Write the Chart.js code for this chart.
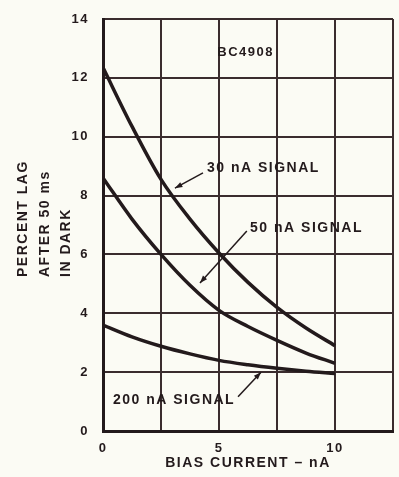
<!DOCTYPE html>
<html lang="en">
<head>
  <meta charset="UTF-8">
  <title>Percent lag vs bias current</title>
  <style>
    html, body {
      margin: 0;
      padding: 0;
      background: #fbfbf4;
    }
    #lagChart {
      display: block;
    }
  </style>
  <script src="https://cdn.jsdelivr.net/npm/chart.js"></script>
</head>
<body>
  <canvas id="lagChart" width="399" height="477"></canvas>

  <script>
    // values
    const biasCurrent = [0, 1.25, 2.5, 3.75, 5, 6.25, 7.5, 8.75, 10];
    const lag30nA = [12.35, 10.35, 8.55, 7.2, 6.05, 5.05, 4.2, 3.5, 2.9];
    const lag50nA = [8.6, 7.2, 6.0, 4.95, 4.1, 3.55, 3.08, 2.65, 2.3];
    const lag200nA = [3.6, 3.2, 2.88, 2.62, 2.4, 2.25, 2.13, 2.03, 1.95];
    const xLabelValues = [0, 5, 10];
    const yTitleLines = ['PERCENT LAG', 'AFTER 50 ms', 'IN DARK'];

    const ink = '#231a1c';
    const gridInk = '#3a2c2e';

    function toPoints(values) {
      return values.map((v, i) => ({ x: biasCurrent[i], y: v }));
    }

    function arrow(ctx, x1, y1, x2, y2) {
      ctx.beginPath();
      ctx.moveTo(x1, y1);
      ctx.lineTo(x2, y2);
      ctx.stroke();
      const a = Math.atan2(y2 - y1, x2 - x1);
      ctx.beginPath();
      ctx.moveTo(x2, y2);
      ctx.lineTo(x2 - 8 * Math.cos(a - 0.35), y2 - 8 * Math.sin(a - 0.35));
      ctx.lineTo(x2 - 8 * Math.cos(a + 0.35), y2 - 8 * Math.sin(a + 0.35));
      ctx.closePath();
      ctx.fill();
    }

    const labelsPlugin = {
      id: 'labels',
      beforeDraw(chart) {
        chart.ctx.letterSpacing = '1.5px';
      },
      afterDraw(chart) {
        const ctx = chart.ctx;
        const xs = chart.scales.x;
        const ys = chart.scales.y;
        const px = v => xs.getPixelForValue(v);
        const py = v => ys.getPixelForValue(v);

        ctx.save();
        ctx.fillStyle = ink;
        ctx.strokeStyle = ink;
        ctx.letterSpacing = '1.5px';
        ctx.textBaseline = 'middle';

        // y axis title, three rotated lines
        ctx.font = 'bold 14px "Liberation Sans", Arial, sans-serif';
        const titleX = [23, 45, 66];
        yTitleLines.forEach((line, i) => {
          ctx.save();
          ctx.translate(titleX[i], 277);
          ctx.rotate(-Math.PI / 2);
          ctx.textAlign = 'left';
          ctx.fillText(line, 0, 0);
          ctx.restore();
        });

        // part number
        ctx.font = 'bold 13px "Liberation Sans", Arial, sans-serif';
        ctx.textAlign = 'center';
        ctx.fillText('BC4908', px(6.15), py(12.85));

        // curve labels
        ctx.font = 'bold 14px "Liberation Sans", Arial, sans-serif';
        ctx.textAlign = 'left';
        ctx.fillText('30 nA SIGNAL', px(4.48), py(8.94));
        ctx.fillText('50 nA SIGNAL', px(6.34), py(6.9));
        ctx.fillText('200 nA SIGNAL', px(0.43), py(1.05));

        ctx.lineWidth = 1.5;
        arrow(ctx, px(4.31), py(8.77), px(3.1), py(8.25));
        arrow(ctx, px(6.2), py(6.8), px(4.18), py(5.03));
        arrow(ctx, px(5.82), py(1.16), px(6.81), py(2.0));
        ctx.restore();
      }
    };

    function lineSet(label, values) {
      return {
        label: label,
        data: toPoints(values),
        borderColor: ink,
        borderWidth: 3.5,
        pointRadius: 0,
        fill: false,
        cubicInterpolationMode: 'monotone'
      };
    }

    new Chart(document.getElementById('lagChart'), {
      type: 'line',
      data: {
        datasets: [
          lineSet('30 nA SIGNAL', lag30nA),
          lineSet('50 nA SIGNAL', lag50nA),
          lineSet('200 nA SIGNAL', lag200nA)
        ]
      },
      options: {
        responsive: false,
        animation: false,
        layout: { padding: { top: 19, right: 6, left: 0, bottom: 0 } },
        plugins: {
          legend: { display: false },
          tooltip: { enabled: false }
        },
        scales: {
          x: {
            type: 'linear',
            min: 0,
            max: 12.5,
            afterFit(scale) {
              scale.height = 46;
              scale.paddingLeft = 0;
              scale.paddingRight = 0;
            },
            ticks: {
              stepSize: 2.5,
              padding: 10,
              color: ink,
              font: { family: '"Liberation Sans", Arial, sans-serif', size: 13, weight: 'bold' },
              maxRotation: 0,
              callback: v => xLabelValues.includes(v) ? String(v) : ''
            },
            grid: { color: gridInk, lineWidth: 2, drawTicks: false },
            border: { color: ink, width: 3 },
            title: {
              display: true,
              text: 'BIAS CURRENT \u2013 nA',
              color: ink,
              font: { family: '"Liberation Sans", Arial, sans-serif', size: 14, weight: 'bold' },
              padding: { top: 0, bottom: 5 }
            }
          },
          y: {
            min: 0,
            max: 14,
            afterFit(scale) {
              scale.width = 103;
              scale.paddingTop = 0;
              scale.paddingBottom = 0;
            },
            ticks: {
              stepSize: 2,
              padding: 14,
              color: ink,
              font: { family: '"Liberation Sans", Arial, sans-serif', size: 13, weight: 'bold' }
            },
            grid: { color: gridInk, lineWidth: 2, drawTicks: false },
            border: { color: ink, width: 3 }
          }
        }
      },
      plugins: [labelsPlugin]
    });
  </script>
</body>
</html>
